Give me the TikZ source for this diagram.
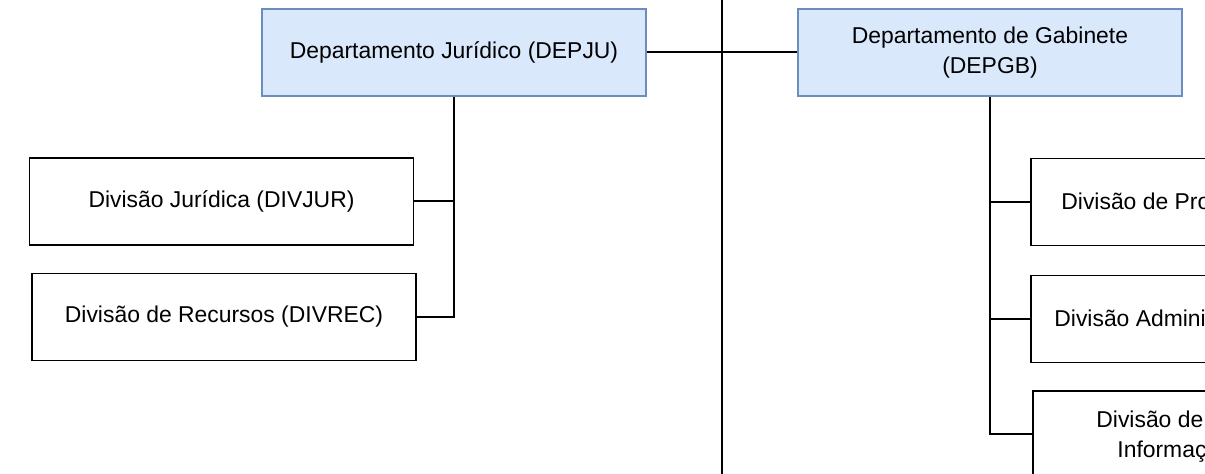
\documentclass[tikz,border=0pt]{standalone}
\usepackage{fontspec}
\setmainfont{Liberation Sans}
\usetikzlibrary{positioning}
\definecolor{deptfill}{HTML}{DAE8FC}
\definecolor{deptline}{HTML}{6C8EBF}
\tikzset{
    dept/.style={
        rectangle, draw=deptline, line width=0.75pt,
        minimum width=192pt, minimum height=43.5pt,
        fill=deptfill, align=center, font=\fontsize{11.45}{14.8}\selectfont
    },
    division/.style={
        rectangle, draw=black, line width=0.75pt,
        minimum width=192pt, minimum height=43.5pt,
        fill=white, align=center, font=\fontsize{11.45}{14.8}\selectfont
    },
    divtext/.style={anchor=base west, inner sep=0pt, font=\fontsize{11.45}{14.8}\selectfont},
    link/.style={draw=black, line width=1pt}
}

\begin{document}
\begin{tikzpicture}[x=0.5pt, y=-0.5pt]
\useasboundingbox (0,0) rectangle (1205,474);
\clip (0,0) rectangle (1205,474);

% Departments (top)
\node[dept] (depju) at (454,52.5) {Departamento Jurídico (DEPJU)};
\node[dept] (depgb) at (990,52.5) {Departamento de Gabinete\\(DEPGB)};

% Trunk line between departments
\coordinate (trunktop) at (722,-10);
\coordinate (trunkbot) at (722,490);
\draw[link] (trunktop) -- (trunkbot);

% Divisions under DEPJU
\node[division] (divjur) at (221.5,201.5) {Divisão Jurídica (DIVJUR)};
\node[division] (divrec) at (224,317) {Divisão de Recursos (DIVREC)};

% Divisions under DEPGB (cut at the right edge)
\node[division] (divpro) at (1223,202) {};
\node[divtext] (divprotxt) at (1061,210) {Divisão de Pro};
\node[division] (divadm) at (1223,319) {};
\node[divtext] (divadmtxt) at (1054,327) {Divisão Admini};
\node[division] (divinf) at (1225,434.5) {};
\node[divtext] (divinftxta) at (1096,428) {Divisão de};
\node[divtext] (divinftxtb) at (1117,458) {Informaç};

% Connections
\draw[link] (depju.east) -- (depgb.west);
\draw[link] (depju.south) -- (divrec.east -| depju.south) -- (divrec.east);
\draw[link] (divjur.east) -- (divjur.east -| depju.south);
\draw[link] (depgb.south) -- (divinf.west -| depgb.south) -- (divinf.west);
\draw[link] (divpro.west) -- (divpro.west -| depgb.south);
\draw[link] (divadm.west) -- (divadm.west -| depgb.south);

\end{tikzpicture}
\end{document}
